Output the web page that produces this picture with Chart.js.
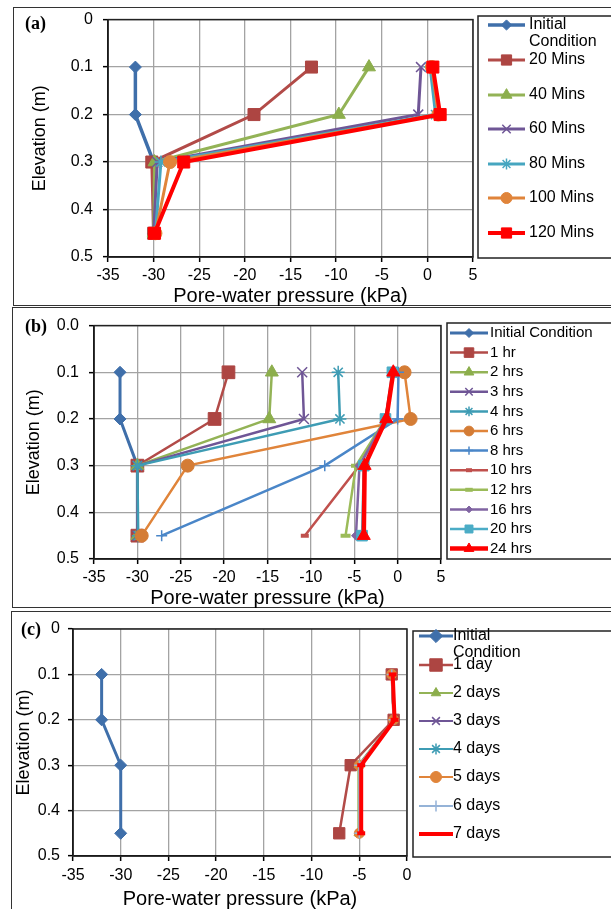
<!DOCTYPE html>
<html>
<head>
<meta charset="utf-8">
<script src="https://cdn.jsdelivr.net/npm/chart.js@4.4.1/dist/chart.umd.min.js"></script>
<style>
  body { margin: 0; background: #fff; }
  #page { position: relative; width: 611px; height: 909px; overflow: hidden; background: #fff; }
  .frame { position: absolute; border: 1.5px solid #333; box-sizing: border-box; }
  canvas { position: absolute; left: 0; }
  .tag { position: absolute; font: bold 18px "Times New Roman", "Liberation Serif", serif; color: #000; }
</style>
</head>
<body>
<div id="page">
  <div class="frame" style="left:13px;top:7px;width:610px;height:299px"></div>
  <div class="frame" style="left:12px;top:307px;width:610px;height:301px"></div>
  <div class="frame" style="left:11px;top:611px;width:610px;height:310px"></div>
  <canvas id="chartA" width="611" height="306" style="top:0"></canvas>
  <canvas id="chartB" width="611" height="302" style="top:306px"></canvas>
  <canvas id="chartC" width="611" height="299" style="top:610px"></canvas>
  <div class="tag" style="left:25px;top:13px">(a)</div>
  <div class="tag" style="left:25px;top:316px">(b)</div>
  <div class="tag" style="left:21px;top:619px">(c)</div>
</div>
<script>
// elevation of the sensors (m)
const elevation = [0.1, 0.2, 0.3, 0.45];
const initialCondition = [-32, -32, -30, -30];

// (a) first two hours
const minuteLabels = ["Initial Condition", "20 Mins", "40 Mins", "60 Mins", "80 Mins", "100 Mins", "120 Mins"];
const mins20 = [-12.7, -19.0, -30.2, -30.0];
const mins40 = [-6.4, -9.7, -29.9, -30.0];
const mins60 = [-0.7, -1.0, -29.6, -30.0];
const mins80 = [0.3, 0.9, -29.2, -29.8];
const mins100 = [0.5, 1.2, -28.2, -29.8];
const mins120 = [0.6, 1.4, -26.7, -29.9];

// (b) first day
const hourLabels = ["Initial Condition", "1 hr", "2 hrs", "3 hrs", "4 hrs", "6 hrs", "8 hrs", "10 hrs", "12 hrs", "16 hrs", "20 hrs", "24 hrs"];
const hrs1 = [-19.5, -21.1, -30.0, -30.0];
const hrs2 = [-14.5, -14.8, -30.0, -30.0];
const hrs3 = [-11.0, -10.8, -30.0, -30.0];
const hrs4 = [-6.85, -6.65, -30.0, -29.9];
const hrs6 = [0.8, 1.5, -24.2, -29.5];
const hrs8 = [0.1, 0.0, -8.4, -27.2];
const hrs10 = [-0.5, -1.4, -4.4, -10.7];
const hrs12 = [-0.5, -1.4, -4.8, -6.0];
const hrs16 = [-0.5, -1.4, -4.4, -4.8];
const hrs20 = [-0.6, -1.4, -3.9, -4.1];
const hrs24 = [-0.5, -1.3, -3.8, -3.9];

// (c) first week
const dayLabels = ["Initial Condition", "1 day", "2 days", "3 days", "4 days", "5 days", "6 days", "7 days"];
const days1 = [-1.6, -1.4, -5.9, -7.1];
const days2 = [-1.6, -1.4, -5.1, -5.1];
const days3 = [-1.6, -1.4, -5.0, -5.0];
const days4 = [-1.6, -1.4, -5.0, -5.0];
const days5 = [-1.6, -1.4, -5.0, -5.0];
const days6 = [-1.6, -1.4, -5.0, -5.0];
const days7 = [-1.5, -1.3, -4.8, -4.8];

const pressureTicks = { min: -35, maxAB: 5, maxC: 0, step: 5 };
const elevationTicks = { min: 0, max: 0.5, step: 0.1 };

const FONT = 'Arial, "Liberation Sans", sans-serif';
const GRID = "#a3a3a3";

// colours / markers
const BLUE = "#3f6faa", BROWN = "#ad4542", GREEN = "#93b356", PURPLE = "#6f5696",
      TEAL = "#46a6c0", ORANGE = "#e0843a", RED = "#ff0000";

function makeSet(label, values, st) {
    return {
        label: label,
        data: values.map((p, i) => ({ x: p, y: elevation[i] })),
        borderColor: st.c,
        backgroundColor: st.f || st.c,
        borderWidth: st.w,
        pointStyle: st.s,
        pointRadius: st.r,
        pointHoverRadius: st.r,
        pointBackgroundColor: st.f || st.c,
        pointBorderColor: st.b || st.f || st.c,
        pointBorderWidth: st.bw || 1,
        tension: 0
    };
}

// legend drawn in the right-hand box of each panel
const panelLegend = {
    id: "panelLegend",
    afterDraw(chart, args, o) {
        const ctx = chart.ctx;
        ctx.save();
        ctx.strokeStyle = "#222";
        ctx.lineWidth = 1.5;
        ctx.strokeRect(o.box[0], o.box[1], o.box[2], o.box[3]);
        ctx.font = o.size + "px " + FONT;
        ctx.textBaseline = "middle";
        chart.data.datasets.forEach((ds, i) => {
            const y = o.rows[i];
            ctx.strokeStyle = ds.borderColor;
            ctx.lineWidth = ds.borderWidth;
            ctx.beginPath();
            ctx.moveTo(o.x0, y);
            ctx.lineTo(o.x1, y);
            ctx.stroke();
            if (Chart.helpers && Chart.helpers.drawPoint) {
                ctx.fillStyle = ds.pointBackgroundColor;
                ctx.strokeStyle = ds.pointBorderColor;
                ctx.lineWidth = ds.pointBorderWidth;
                Chart.helpers.drawPoint(ctx, {
                    pointStyle: ds.pointStyle,
                    radius: ds.pointRadius * o.scale,
                    borderWidth: ds.pointBorderWidth,
                    rotation: 0
                }, (o.x0 + o.x1) / 2, y);
            }
            ctx.fillStyle = "#000";
            const lines = o.wrap && ds.label.indexOf(" ") > 0 && ds.label.length > 12 ? ds.label.split(" ") : [ds.label];
            lines.forEach((t, k) => ctx.fillText(t, o.tx, y + k * o.gap));
        });
        ctx.restore();
    }
};

// dark frame round the plot area
const plotFrame = {
    id: "plotFrame",
    beforeDatasetsDraw(chart) {
        const a = chart.chartArea, ctx = chart.ctx;
        ctx.save();
        ctx.strokeStyle = "#222";
        ctx.lineWidth = 1.5;
        ctx.strokeRect(a.left, a.top, a.right - a.left, a.bottom - a.top);
        ctx.restore();
    }
};

function makeChart(id, sets, ax, legend) {
    sets.forEach((s, i) => { s.order = sets.length - i; });
    return new Chart(document.getElementById(id), {
        type: "line",
        data: { datasets: sets },
        options: {
            responsive: false,
            animation: false,
            devicePixelRatio: 1,
            layout: { padding: { top: ax.top, right: ax.right, left: 0, bottom: 0 } },
            plugins: { legend: { display: false }, tooltip: { enabled: false }, panelLegend: legend },
            scales: {
                x: {
                    type: "linear", position: "bottom",
                    min: pressureTicks.min, max: ax.xMax,
                    ticks: { stepSize: pressureTicks.step, padding: ax.xPad, color: "#000", maxRotation: 0,
                             font: { size: 16, family: FONT } },
                    grid: { color: GRID, lineWidth: 1.3, tickLength: 5, tickColor: "#000", tickWidth: 1.5 },
                    border: { color: "#000", width: 1.5 },
                    title: { display: true, text: "Pore-water pressure (kPa)", color: "#000",
                             font: { size: 20, family: FONT, lineHeight: 1 }, padding: { top: 0, bottom: ax.xTitlePad } },
                    afterFit: s => { s.height = ax.xH; }
                },
                y: {
                    type: "linear", reverse: true,
                    min: elevationTicks.min, max: elevationTicks.max,
                    ticks: { stepSize: elevationTicks.step, padding: ax.yPad, color: "#000",
                             font: { size: 16, family: FONT },
                             callback: v => ax.oneDec ? v.toFixed(1) : String(Math.round(v * 10) / 10) },
                    grid: { color: GRID, lineWidth: 1.3, tickLength: 5, tickColor: "#000", tickWidth: 1.5 },
                    border: { color: "#000", width: 1.5 },
                    title: { display: true, text: "Elevation (m)", color: "#000",
                             font: { size: 18, family: FONT, lineHeight: 1 }, padding: { top: ax.yTitlePad, bottom: 0 } },
                    afterFit: s => { s.width = ax.yW; }
                }
            }
        },
        plugins: [panelLegend, plotFrame]
    });
}

// ---- (a)
const setsA = [
    makeSet(minuteLabels[0], initialCondition, { c: BLUE, w: 3.5, s: "rectRot", r: 6 }),
    makeSet(minuteLabels[1], mins20, { c: "#b24b48", f: BROWN, w: 3, s: "rect", r: 8.5 }),
    makeSet(minuteLabels[2], mins40, { c: GREEN, f: "#8cae4c", w: 3, s: "triangle", r: 7.5 }),
    makeSet(minuteLabels[3], mins60, { c: PURPLE, w: 3, s: "crossRot", r: 7, bw: 1.5 }),
    makeSet(minuteLabels[4], mins80, { c: TEAL, w: 3, s: "star", r: 6.5, bw: 1.5 }),
    makeSet(minuteLabels[5], mins100, { c: ORANGE, w: 3, s: "circle", r: 6.5 }),
    makeSet(minuteLabels[6], mins120, { c: RED, w: 4, s: "rect", r: 8.5 })
];
makeChart("chartA", setsA,
    { top: 16, right: 138, xMax: pressureTicks.maxAB, xH: 49, yW: 108, xPad: 4, yPad: 10, xTitlePad: 0, yTitlePad: 31, oneDec: false },
    { box: [478, 16, 150, 242], rows: [25, 60, 95, 129, 164, 198, 233], x0: 488, x1: 525, tx: 529, size: 16, gap: 17, wrap: true, scale: 0.85 });

// ---- (b)
const setsB = [
    makeSet(hourLabels[0], initialCondition, { c: BLUE, w: 3, s: "rectRot", r: 6 }),
    makeSet(hourLabels[1], hrs1, { c: "#b24b48", f: BROWN, w: 2.5, s: "rect", r: 9 }),
    makeSet(hourLabels[2], hrs2, { c: GREEN, f: "#8cae4c", w: 2.5, s: "triangle", r: 7.5 }),
    makeSet(hourLabels[3], hrs3, { c: PURPLE, w: 2.5, s: "crossRot", r: 7, bw: 1.5 }),
    makeSet(hourLabels[4], hrs4, { c: "#3e9cb4", w: 2.5, s: "star", r: 6.5, bw: 1.5 }),
    makeSet(hourLabels[5], hrs6, { c: ORANGE, f: "#d47c35", w: 2.5, s: "circle", r: 6.5 }),
    makeSet(hourLabels[6], hrs8, { c: "#4a86c8", w: 2.5, s: "cross", r: 5.5, bw: 1.5 }),
    makeSet(hourLabels[7], hrs10, { c: "#c0504d", w: 2.5, s: "line", r: 4, bw: 4 }),
    makeSet(hourLabels[8], hrs12, { c: "#9bbb59", w: 2.5, s: "line", r: 5, bw: 4 }),
    makeSet(hourLabels[9], hrs16, { c: "#8064a2", w: 2.5, s: "rectRot", r: 4.5 }),
    makeSet(hourLabels[10], hrs20, { c: "#4bacc6", w: 2.5, s: "rect", r: 7.5 }),
    makeSet(hourLabels[11], hrs24, { c: RED, w: 4.5, s: "triangle", r: 7.5 })
];
makeChart("chartB", setsB,
    { top: 17, right: 170, xMax: pressureTicks.maxAB, xH: 49, yW: 94, xPad: 4, yPad: 10, xTitlePad: 0, yTitlePad: 25, oneDec: true },
    { box: [447, 17, 180, 236], rows: hourLabels.map((_, i) => 27 + i * 19.6), x0: 450, x1: 488, tx: 490, size: 15, gap: 0, wrap: false, scale: 0.75 });

// ---- (c)
const setsC = [
    makeSet(dayLabels[0], initialCondition, { c: BLUE, w: 3, s: "rectRot", r: 6 }),
    makeSet(dayLabels[1], days1, { c: "#b24b48", f: BROWN, w: 2.5, s: "rect", r: 8 }),
    makeSet(dayLabels[2], days2, { c: GREEN, f: "#8cae4c", w: 2, s: "triangle", r: 5 }),
    makeSet(dayLabels[3], days3, { c: PURPLE, w: 2, s: "crossRot", r: 5, bw: 1.5 }),
    makeSet(dayLabels[4], days4, { c: "#3e9cb4", w: 2, s: "star", r: 5, bw: 1.5 }),
    makeSet(dayLabels[5], days5, { c: ORANGE, w: 2, s: "circle", r: 5 }),
    makeSet(dayLabels[6], days6, { c: "#95b3d7", w: 2, s: "cross", r: 5, bw: 1.5 }),
    makeSet(dayLabels[7], days7, { c: RED, w: 4, s: "line", r: 4, bw: 4 })
];
makeChart("chartC", setsC,
    { top: 19, right: 204, xMax: pressureTicks.maxC, xH: 53, yW: 73, xPad: 5, yPad: 8, xTitlePad: 0, yTitlePad: 15, oneDec: false },
    { box: [413, 21, 210, 226], rows: [26, 55, 83, 111, 139, 167, 196, 224], x0: 419, x1: 453, tx: 453, size: 16, gap: 17, wrap: true, scale: 1.1 });
</script>
</body>
</html>
